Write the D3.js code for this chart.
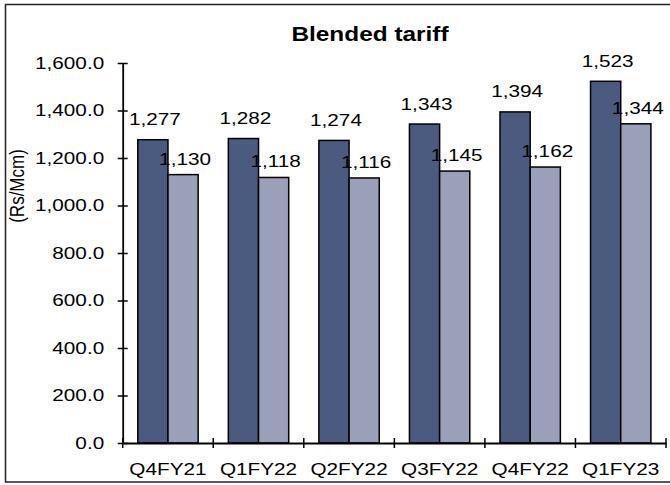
<!DOCTYPE html>
<html>
<head>
<meta charset="utf-8">
<script src="https://cdn.jsdelivr.net/npm/d3@7"></script>
<style>
  body { margin: 0; background: #fff; }
  text { font-family: "Liberation Sans", Arial, sans-serif; fill: #000; }
</style>
</head>
<body>
<div class="chart"></div>
<script>
const categories = ["Q4FY21", "Q1FY22", "Q2FY22", "Q3FY22", "Q4FY22", "Q1FY23"];
const seriesNames = ["A", "B"];
const seriesA = [1277, 1282, 1274, 1343, 1394, 1523];
const seriesB = [1130, 1118, 1116, 1145, 1162, 1344];
const yTicks = [0, 200, 400, 600, 800, 1000, 1200, 1400, 1600];
const title = "Blended tariff";
const yTitle = "(Rs/Mcm)";

const width = 670, height = 485;
const plot = {left: 122.7, right: 666, top: 63, bottom: 443};
const colors = {A: "#4b5b7f", B: "#9aa0b9"};
const stretch = 1.22;

const svg = d3.select(".chart")
  .append("svg")
    .attr("width", width)
    .attr("height", height);

// outer frame
svg.append("rect")
  .attr("x", 5.5).attr("y", 4.5)
  .attr("width", 670).attr("height", 477.5)
  .attr("fill", "none")
  .attr("stroke", "#222")
  .attr("stroke-width", 1.5);

const x = d3.scaleBand()
  .domain(categories)
  .range([plot.left, plot.right])
  .paddingInner(1 / 3)
  .paddingOuter(1 / 6);

const x1 = d3.scaleBand()
  .domain(seriesNames)
  .range([0, x.bandwidth()]);

const y = d3.scaleLinear()
  .domain([0, 1600])
  .range([plot.bottom, plot.top]);

const rows = categories.map((c, i) => ({cat: c, A: seriesA[i], B: seriesB[i]}));

// bars
const groups = svg.selectAll("g.cat")
  .data(rows)
  .enter().append("g")
    .attr("class", "cat")
    .attr("transform", d => `translate(${x(d.cat)},0)`);

groups.selectAll("rect")
  .data(d => seriesNames.map(s => ({s, v: d[s]})))
  .enter().append("rect")
    .attr("x", d => x1(d.s))
    .attr("y", d => y(d.v))
    .attr("width", x1.bandwidth())
    .attr("height", d => y(0) - y(d.v))
    .attr("fill", d => colors[d.s])
    .attr("stroke", "#000")
    .attr("stroke-width", 1.5);

// value labels
const labelGap = {A: 14.5, B: 10};
groups.selectAll("text.val")
  .data(d => seriesNames.map(s => ({s, v: d[s]})))
  .enter().append("text")
    .attr("class", "val")
    .attr("text-anchor", "middle")
    .attr("font-size", "17px")
    .attr("transform", d => `translate(${x1(d.s) + x1.bandwidth() / 2 + 2},${y(d.v) - labelGap[d.s]}) scale(${stretch},1)`)
    .text(d => d3.format(",")(d.v));

// y axis
const yAxis = svg.append("g")
  .attr("transform", `translate(${plot.left},0)`)
  .call(d3.axisLeft(y).tickValues(yTicks).tickFormat(d3.format(",.1f")).tickSizeOuter(0));
yAxis.select(".domain").attr("stroke", "#000").attr("stroke-width", 1.8);
yAxis.selectAll(".tick line").attr("x1", 5).attr("x2", -5).attr("stroke-width", 1.5);
yAxis.selectAll(".tick text")
  .attr("x", null)
  .attr("font-size", "17px")
  .attr("font-family", "Liberation Sans, Arial, sans-serif")
  .attr("transform", `translate(-18.5,0) scale(${stretch},1)`);

// x axis
const xAxis = svg.append("g")
  .attr("transform", `translate(0,${plot.bottom})`)
  .call(d3.axisBottom(x).tickSize(0).tickPadding(0).tickSizeOuter(0));
xAxis.select(".domain").attr("stroke", "#000").attr("stroke-width", 1.8);
xAxis.selectAll(".tick text")
  .attr("y", null).attr("dy", null)
  .attr("font-size", "17px")
  .attr("font-family", "Liberation Sans, Arial, sans-serif")
  .attr("transform", `translate(0,32) scale(${stretch},1)`);

// cross ticks at category boundaries
const step = x.step();
const bounds = d3.range(categories.length + 1).map(i => plot.left + i * step);
svg.append("g").selectAll("line")
  .data(bounds)
  .enter().append("line")
    .attr("x1", d => d).attr("x2", d => d)
    .attr("y1", plot.bottom - 5).attr("y2", plot.bottom + 5)
    .attr("stroke", "#000")
    .attr("stroke-width", 1.5);

// title
svg.append("text")
  .attr("text-anchor", "middle")
  .attr("font-size", "20px")
  .attr("font-weight", "bold")
  .attr("transform", `translate(370,41) scale(${stretch},1)`)
  .text(title);

// y axis title
svg.append("text")
  .attr("text-anchor", "middle")
  .attr("font-size", "17px")
  .attr("transform", `translate(24,186) rotate(-90) scale(1,${stretch})`)
  .text(yTitle);
</script>
</body>
</html>
